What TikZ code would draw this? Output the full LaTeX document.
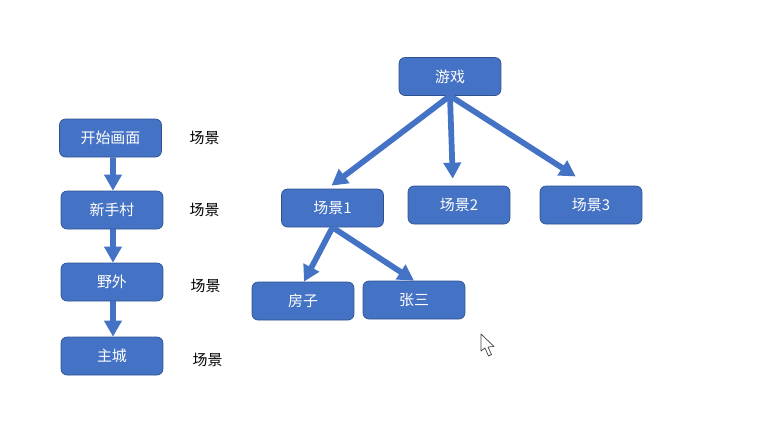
\documentclass[tikz,border=0pt]{standalone}
\usepackage{fontspec}
\setmainfont{Noto Sans CJK SC}
\usepackage{tikz}
\usetikzlibrary{arrows.meta}
\definecolor{boxblue}{HTML}{4472C4}
\definecolor{boxedge}{HTML}{2F528F}
\tikzset{
    box/.style={rectangle, rounded corners=0.12cm, draw=boxedge, line width=0.4pt, fill=boxblue, text=white, minimum width=2.04cm, minimum height=0.76cm, inner sep=0pt, font=\fontsize{8.5pt}{10pt}\selectfont},
    tag/.style={inner sep=0pt, text=black, font=\fontsize{8.5pt}{10pt}\selectfont},
    link/.style={-{Triangle[width=0.34cm, length=0.32cm]}, draw=boxblue, line width=0.115cm},
}
\begin{document}
\begin{tikzpicture}[x=0.02cm, y=-0.02cm]
        \useasboundingbox (0, 0) rectangle (772, 440);

        % Left column
        \node[box] (start) at (110.5, 138) {开始画面};
        \node[box] (village) at (112, 210) {新手村};
        \node[box] (field) at (112, 282) {野外};
        \node[box] (city) at (112, 356) {主城};

        \node[tag] (tag1) at (204.5, 138) {场景};
        \node[tag] (tag2) at (204.5, 210) {场景};
        \node[tag] (tag3) at (205.5, 286) {场景};
        \node[tag] (tag4) at (207.5, 360) {场景};

        \draw[link] ([xshift=0.05cm]start.south) -- ([xshift=0.02cm]village.north);
        \draw[link] ([xshift=0.02cm]village.south) -- ([xshift=0.02cm]field.north);
        \draw[link] ([xshift=0.02cm]field.south) -- ([xshift=0.02cm]city.north);

        % Right tree
        \node[box] (game) at (450, 76.5) {游戏};
        \node[box] (scene1) at (332.5, 208) {场景1};
        \node[box] (scene2) at (459, 205) {场景2};
        \node[box] (scene3) at (591, 205) {场景3};
        \node[box] (house) at (303, 301) {房子};
        \node[box] (zhang) at (414, 300) {张三};

        \draw[link, shorten >=0.1cm] (game.south) -- ([xshift=-0.1cm]scene1.north);
        \draw[link, shorten >=0.14cm] (game.south) -- ([xshift=-0.12cm]scene2.north);
        \draw[link, shorten >=0.34cm] (game.south) -- ([xshift=-0.02cm]scene3.north);
        \draw[link] (scene1.south) -- ([xshift=0.02cm]house.north);
        \draw[link] (scene1.south) -- (zhang.north);

        % Mouse pointer
        \draw[draw=black!75, fill=white, line width=0.4pt, line join=round] (481, 334) -- (481, 351) -- (485, 348) -- (488.5, 356) -- (491.5, 354.5) -- (488, 347) -- (494, 346.5) -- cycle;
    \end{tikzpicture}
\end{document}
